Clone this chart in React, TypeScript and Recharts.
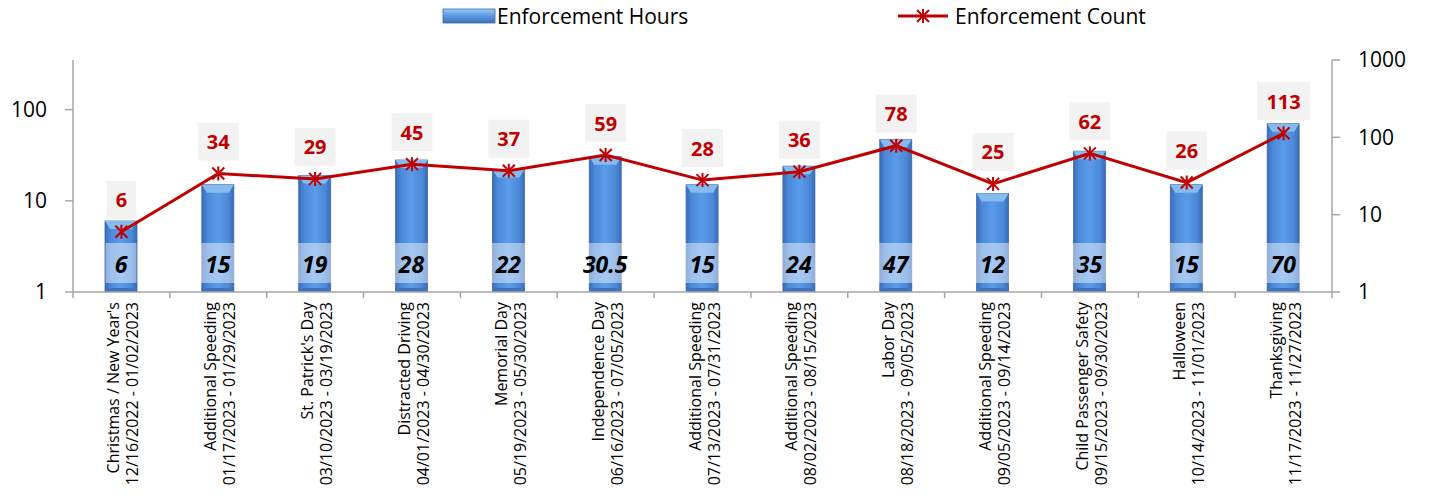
import React from 'react';
import { ComposedChart, Bar, Line, XAxis, YAxis, LabelList } from 'recharts';

const campaigns = [
  "Christmas / New Year's",
  'Additional Speeding',
  "St. Patrick's Day",
  'Distracted Driving',
  'Memorial Day',
  'Independence Day',
  'Additional Speeding',
  'Additional Speeding',
  'Labor Day',
  'Additional Speeding',
  'Child Passenger Safety',
  'Halloween',
  'Thanksgiving',
];
const periods = [
  '12/16/2022 - 01/02/2023',
  '01/17/2023 - 01/29/2023',
  '03/10/2023 - 03/19/2023',
  '04/01/2023 - 04/30/2023',
  '05/19/2023 - 05/30/2023',
  '06/16/2023 - 07/05/2023',
  '07/13/2023 - 07/31/2023',
  '08/02/2023 - 08/15/2023',
  '08/18/2023 - 09/05/2023',
  '09/05/2023 - 09/14/2023',
  '09/15/2023 - 09/30/2023',
  '10/14/2023 - 11/01/2023',
  '11/17/2023 - 11/27/2023',
];
const enforcementHours = [6, 15, 19, 28, 22, 30.5, 15, 24, 47, 12, 35, 15, 70];
const enforcementCount = [6, 34, 29, 45, 37, 59, 28, 36, 78, 25, 62, 26, 113];
const leftTicks = [1, 10, 100];
const rightTicks = [1, 10, 100, 1000];

const data = campaigns.map((c, i) => ({
  key: i,
  campaign: c,
  period: periods[i],
  hours: enforcementHours[i],
  count: enforcementCount[i],
}));

const FONT = '"Open Sans", "Liberation Sans", sans-serif';
const RED = '#c00000';
const AXIS = '#a6a6a6';

const CategoryTick = (props: any) => {
  const { x, y, payload } = props;
  const d = data[payload.index] ?? data[payload.value];
  if (!d) return null;
  const off = payload.offset || 0;
  const isLast = payload.index === data.length - 1;
  return (
    <g transform={`translate(${x},${y})`}>
      <line x1={-off} y1={-10} x2={-off} y2={-4} stroke={AXIS} strokeWidth={1.5} />
      {isLast && <line x1={off} y1={-10} x2={off} y2={-4} stroke={AXIS} strokeWidth={1.5} />}
      <text transform="rotate(-90)" textAnchor="end" fontFamily={FONT} fontSize={16} fill="#000">
        <tspan x={0} y={-2}>{d.campaign}</tspan>
        <tspan x={0} y={17}>{d.period}</tspan>
      </text>
    </g>
  );
};

const BarShape = (props: any) => {
  const { x, y, width, height } = props;
  if (height <= 0) return null;
  const b = Math.min(8, height / 2);
  return (
    <g>
      <rect x={x} y={y} width={width} height={height} fill="url(#barGrad)" stroke="#3b67a9" strokeWidth={0.8} />
      <polygon
        points={`${x},${y} ${x + width},${y} ${x + width - 5},${y + b} ${x + 5},${y + b}`}
        fill="#86bbf0"
      />
      <polygon
        points={`${x},${y + height} ${x + width},${y + height} ${x + width - 4},${y + height - 4} ${x + 4},${y + height - 4}`}
        fill="#3f72bb"
      />
    </g>
  );
};

const StarDot = (props: any) => {
  const { cx, cy } = props;
  if (cx == null || cy == null) return null;
  const r = 7;
  const d = 6;
  return (
    <g stroke={RED} strokeWidth={2}>
      <line x1={cx} y1={cy - r} x2={cx} y2={cy + r} />
      <line x1={cx - d} y1={cy - d} x2={cx + d} y2={cy + d} />
      <line x1={cx + d} y1={cy - d} x2={cx - d} y2={cy + d} />
    </g>
  );
};

const BarValueLabel = (props: any) => {
  const { x, y, width, height, value } = props;
  const s = String(value);
  const digits = s.replace(/[^0-9]/g, '').length;
  const dots = s.length - digits;
  const w = digits * 11 + dots * 5 + 20;
  const cx = x + width / 2;
  const bottom = y + height - 9;
  return (
    <g>
      <rect x={cx - w / 2} y={bottom - 40} width={w} height={40} fill="#ffffff" fillOpacity={0.45} />
      <text
        x={cx}
        y={bottom - 19}
        textAnchor="middle"
        dominantBaseline="central"
        fontFamily={FONT}
        fontWeight={700}
        fontStyle="italic"
        fontSize={23}
        fill="#000"
      >
        {s}
      </text>
    </g>
  );
};

const CountLabel = (props: any) => {
  const { x, y, value } = props;
  const s = String(value);
  const w = s.length * 12 + 17;
  const cy = y - 32;
  return (
    <g>
      <rect x={x - w / 2} y={cy - 19} width={w} height={38} fill="#f2f2f2" />
      <text
        x={x}
        y={cy}
        textAnchor="middle"
        dominantBaseline="central"
        fontFamily={FONT}
        fontWeight={700}
        fontSize={20}
        fill={RED}
      >
        {s}
      </text>
    </g>
  );
};

const Legend = () => (
  <div style={{ position: 'absolute', left: 0, top: 0, width: 1429, height: 34, pointerEvents: 'none' }}>
    <svg width={1429} height={34} style={{ position: 'absolute', left: 0, top: 0 }}>
      <defs>
        <linearGradient id="legGrad" x1="0" y1="0" x2="0" y2="1">
          <stop offset="0%" stopColor="#9cccf5" />
          <stop offset="50%" stopColor="#5b97e0" />
          <stop offset="100%" stopColor="#3f72bb" />
        </linearGradient>
      </defs>
      <rect x={443} y={9} width={52} height={14} fill="url(#legGrad)" stroke="#3b67a9" strokeWidth={0.8} />
      <line x1={898} y1={16} x2={948} y2={16} stroke={RED} strokeWidth={3} />
      <g stroke={RED} strokeWidth={2}>
        <line x1={923} y1={9} x2={923} y2={23} />
        <line x1={917} y1={10} x2={929} y2={22} />
        <line x1={929} y1={10} x2={917} y2={22} />
      </g>
      <text x={497} y={16} dominantBaseline="central" fontFamily={FONT} fontSize={21} fill="#000">
        Enforcement Hours
      </text>
      <text x={955} y={16} dominantBaseline="central" fontFamily={FONT} fontSize={21} fill="#000">
        Enforcement Count
      </text>
    </svg>
  </div>
);

export default function App() {
  return (
    <div style={{ position: 'absolute', left: 0, top: 0, width: 1429, height: 501, background: '#fff' }}>
      <ComposedChart
        width={1429}
        height={501}
        data={data}
        margin={{ top: 60, right: 0, bottom: 0, left: 0 }}
      >
        <defs>
          <linearGradient id="barGrad" x1="0" y1="0" x2="1" y2="0">
            <stop offset="0%" stopColor="#3a6cb8" />
            <stop offset="18%" stopColor="#4c8ad9" />
            <stop offset="50%" stopColor="#5a9bea" />
            <stop offset="82%" stopColor="#4c8ad9" />
            <stop offset="100%" stopColor="#3a6cb8" />
          </linearGradient>
        </defs>
        <XAxis
          dataKey="key"
          type="category"
          height={209}
          interval={0}
          axisLine={{ stroke: AXIS, strokeWidth: 1.5 }}
          tickLine={false}
          tickSize={0}
          tickMargin={10}
          tick={<CategoryTick />}
        />
        <YAxis
          yAxisId="left"
          orientation="left"
          scale="log"
          domain={[1, 350]}
          allowDataOverflow
          ticks={leftTicks}
          width={73}
          axisLine={{ stroke: AXIS, strokeWidth: 1.5 }}
          tickLine={{ stroke: AXIS, strokeWidth: 1.5 }}
          tickSize={8}
          tickMargin={18}
          tick={{ fontFamily: FONT, fontSize: 21, fill: '#000' }}
        />
        <YAxis
          yAxisId="right"
          orientation="right"
          scale="log"
          domain={[1, 1000]}
          allowDataOverflow
          ticks={rightTicks}
          width={97}
          axisLine={{ stroke: AXIS, strokeWidth: 1.5 }}
          tickLine={{ stroke: AXIS, strokeWidth: 1.5 }}
          tickSize={8}
          tickMargin={18}
          tick={{ fontFamily: FONT, fontSize: 21, fill: '#000', textAnchor: 'start' }}
        />
        <Bar
          yAxisId="left"
          dataKey="hours"
          barSize={32}
          shape={<BarShape />}
          isAnimationActive={false}
        >
          <LabelList dataKey="hours" content={<BarValueLabel />} />
        </Bar>
        <Line
          yAxisId="right"
          dataKey="count"
          stroke={RED}
          strokeWidth={3}
          dot={<StarDot />}
          activeDot={false}
          isAnimationActive={false}
        >
          <LabelList dataKey="count" content={<CountLabel />} />
        </Line>
      </ComposedChart>
      <Legend />
    </div>
  );
}
